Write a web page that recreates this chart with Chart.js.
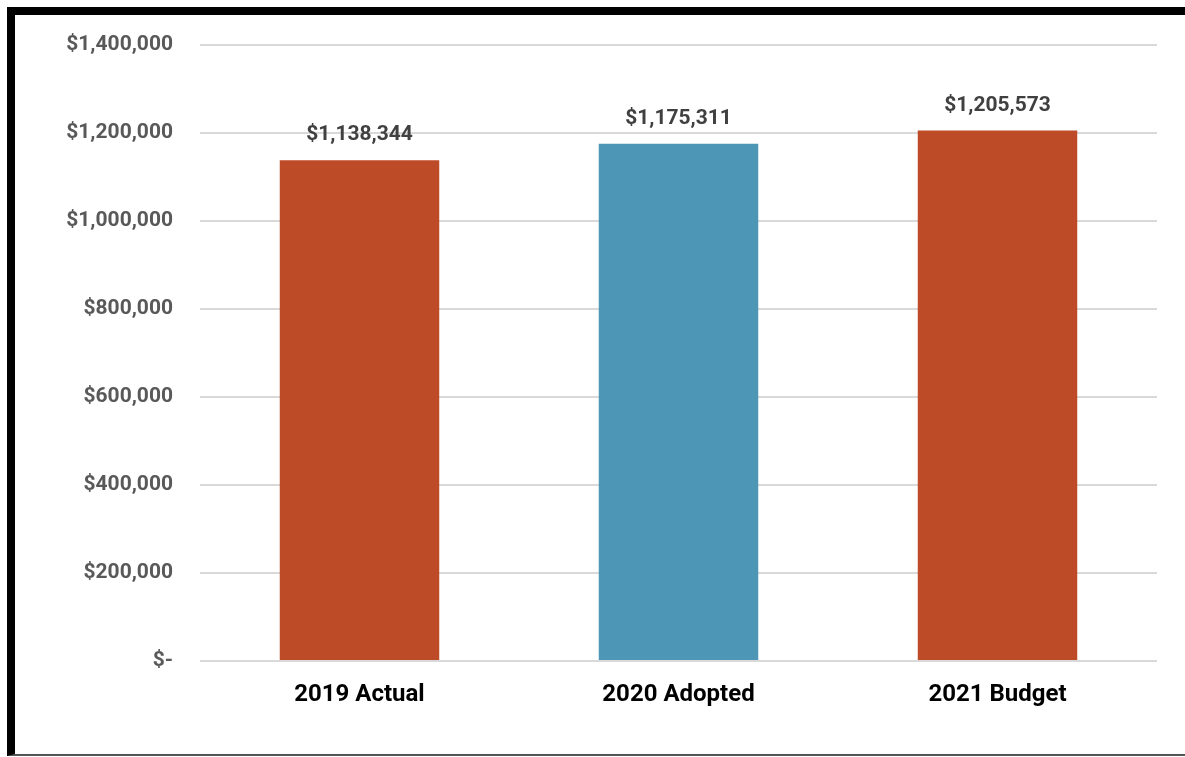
<!DOCTYPE html>
<html>
<head>
<meta charset="utf-8">
<script src="https://cdn.jsdelivr.net/npm/chart.js@4"></script>
<style>
  html, body { margin: 0; padding: 0; background: #fff; }
  #wrap { position: relative; width: 1185px; height: 757px; overflow: hidden; }
  #frame {
    position: absolute; left: 7px; top: 7px; width: 1200px; height: 739px;
    border-left: 8px solid #000; border-top: 8px solid #000; border-bottom: 2px solid #555;
  }
  #budgetChart { position: absolute; left: 0; top: 0; }
</style>
</head>
<body>
<div id="wrap">
  <div id="frame"></div>
  <canvas id="budgetChart" width="1185" height="757"></canvas>
</div>
<script>
const categories = ["2019 Actual", "2020 Adopted", "2021 Budget"];
const amounts = [1138344, 1175311, 1205573];
const barColors = ["#BE4B27", "#4D96B6", "#BE4B27"];

const FONT = "Roboto, 'DejaVu Sans Condensed', sans-serif";

function formatMoney(v) {
  if (v === 0) return "$-";
  return "$" + Math.round(v).toLocaleString("en-US");
}

// value labels above each bar
const barValueLabels = {
  id: "barValueLabels",
  afterDatasetsDraw(chart) {
    const ctx = chart.ctx;
    const meta = chart.getDatasetMeta(0);
    ctx.save();
    ctx.font = "bold 21px " + FONT;
    ctx.fillStyle = "#404040";
    ctx.textAlign = "center";
    ctx.textBaseline = "middle";
    meta.data.forEach((bar, i) => {
      ctx.fillText(formatMoney(amounts[i]), bar.x, bar.y - 25);
    });
    ctx.restore();
  }
};

new Chart(document.getElementById("budgetChart"), {
  type: "bar",
  data: {
    labels: categories,
    datasets: [{
      data: amounts,
      backgroundColor: barColors,
      borderWidth: 0,
      categoryPercentage: 1,
      barPercentage: 0.5
    }]
  },
  options: {
    responsive: false,
    animation: false,
    layout: { padding: { top: 45, right: 28, bottom: 0, left: 0 } },
    plugins: {
      legend: { display: false },
      tooltip: { enabled: false }
    },
    scales: {
      x: {
        grid: { display: false },
        border: { display: false },
        ticks: {
          color: "#000",
          padding: 12,
          font: { family: FONT, size: 24, weight: "bold" }
        },
        afterFit(scale) { scale.height = 96; }
      },
      y: {
        min: 0,
        max: 1400000,
        grid: { color: "#d9d9d9", lineWidth: 2, drawTicks: false },
        border: { display: false },
        ticks: {
          stepSize: 200000,
          color: "#595959",
          padding: 27,
          font: { family: FONT, size: 21, weight: "bold" },
          callback: v => formatMoney(v)
        },
        afterFit(scale) { scale.width = 200; }
      }
    }
  },
  plugins: [barValueLabels]
});
</script>
</body>
</html>
